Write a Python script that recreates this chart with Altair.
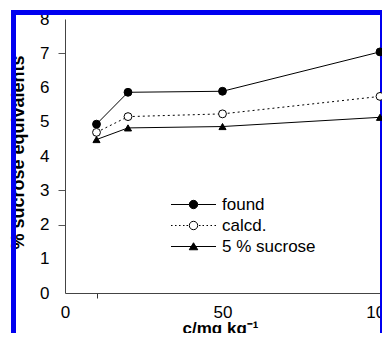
import altair as alt
import pandas as pd

# data
conc = [10, 20, 50, 100]
found = [4.93, 5.86, 5.89, 7.04]
calcd = [4.69, 5.15, 5.23, 5.74]
sucrose = [4.48, 4.82, 4.86, 5.13]
series_names = ["found", "calcd.", "5 % sucrose"]
y_ticks = [0, 1, 2, 3, 4, 5, 6, 7, 8]
x_ticks = [0, 10, 50, 100]

rows = []
for name, vals in zip(series_names, [found, calcd, sucrose]):
    for c, v in zip(conc, vals):
        rows.append({"series": name, "c": c, "v": v})
df = pd.DataFrame(rows)

FONT = "Liberation Sans"

xenc = alt.X("c:Q", scale=alt.Scale(domain=[0, 100], nice=False),
             axis=alt.Axis(values=x_ticks, labelExpr="datum.value == 10 ? '' : datum.label",
                           tickColor={"condition": {"test": "datum.value == 10", "value": "#333"}, "value": "transparent"},
                           tickSize=5, domainColor="#444", grid=False,
                           labelFont=FONT, labelFontSize=17, labelColor="black", labelPadding=6,
                           labelFlush=False, labelOverlap=False,
                           title="c/mg kg⁻¹", titleFont=FONT, titleFontSize=17, titleFontWeight="bold",
                           titleColor="black", titleX=155, titleY=40, titleBaseline="alphabetic"))
yenc = alt.Y("v:Q", scale=alt.Scale(domain=[0, 8], nice=False),
             axis=alt.Axis(values=y_ticks,
                           tickColor={"condition": {"test": "datum.value == 7 || datum.value == 3 || datum.value == 2", "value": "#555"}, "value": "transparent"},
                           tickSize=7, domainColor="#444", grid=False,
                           labelFont=FONT, labelFontSize=17, labelColor="black", labelPadding=9,
                           labelFlush=False, labelOverlap=False,
                           title="% sucrose equivalents", titleFont=FONT, titleFontSize=18, titleFontWeight="bold",
                           titleColor="black", titleX=-41.5, titleY=133, titleAngle=270,
                           titleBaseline="alphabetic", titleAlign="center"))

base = alt.Chart(df)

def sel(name):
    return base.transform_filter(alt.datum.series == name)

line_found = sel("found").mark_line(color="black", strokeWidth=1).encode(x=xenc, y=yenc)
line_calcd = sel("calcd.").mark_line(color="black", strokeWidth=1, strokeDash=[2, 3]).encode(x=xenc, y=yenc)
line_suc = sel("5 % sucrose").mark_line(color="black", strokeWidth=1).encode(x=xenc, y=yenc)

pt_found = sel("found").mark_point(shape="circle", filled=True, fill="black", stroke="black",
                                   strokeWidth=1, size=62, opacity=1).encode(x=xenc, y=yenc)
pt_calcd = sel("calcd.").mark_point(shape="circle", filled=True, fill="white", stroke="black",
                                    strokeWidth=1, size=62, opacity=1).encode(x=xenc, y=yenc)
pt_suc = sel("5 % sucrose").mark_point(shape="triangle-up", filled=True, fill="black", stroke="black",
                                       strokeWidth=1, size=50, opacity=1).encode(x=xenc, y=yenc)

# legend symbols: line with marker, as custom paths
p_found = "M-4.5,0H-0.84M0.84,0H4.5M-0.84,0A0.84,0.84,0,1,0,0.84,0A0.84,0.84,0,1,0,-0.84,0Z"
p_calcd = ("M-4.5,0H-4.2M-3.7,0H-3.4M-2.9,0H-2.6M-2.1,0H-1.8M-1.4,0H-1.1"
           "M1.1,0H1.4M1.8,0H2.1M2.6,0H2.9M3.4,0H3.7M4.2,0H4.5"
           "M-0.84,0A0.84,0.84,0,1,0,0.84,0A0.84,0.84,0,1,0,-0.84,0Z")
p_suc = "M-4.5,0H4.5M0,-0.75L0.85,0.65L-0.85,0.65Z"

leg = alt.Legend(title=None, orient="none", legendX=120, legendY=177,
                 labelFont=FONT, labelFontSize=17, labelColor="black", labelOffset=20,
                 symbolSize=100, symbolStrokeWidth=1, symbolStrokeColor="black",
                 symbolOpacity=1, rowPadding=3, padding=0)

legend_layer = base.mark_point(filled=True, stroke="black", strokeWidth=1, opacity=0).encode(
    x=xenc, y=yenc,
    shape=alt.Shape("series:N", scale=alt.Scale(domain=series_names, range=[p_found, p_calcd, p_suc]), legend=leg),
    fill=alt.Fill("series:N", scale=alt.Scale(domain=series_names, range=["black", "white", "black"]), legend=leg),
    stroke=alt.Stroke("series:N", scale=alt.Scale(domain=series_names, range=["black", "black", "black"]), legend=leg),
)

one = pd.DataFrame({"a": [0]})
BLUE = "#0000f0"
top_band = alt.Chart(one).mark_rule(color=BLUE, strokeWidth=5).encode(
    x=alt.value(-54), x2=alt.value(318), y=alt.value(-6.5))
left_band = alt.Chart(one).mark_rule(color=BLUE, strokeWidth=5).encode(
    x=alt.value(-51.5), y=alt.value(-9), y2=alt.value(316))
right_band = alt.Chart(one).mark_rule(color=BLUE, strokeWidth=2).encode(
    x=alt.value(316), y=alt.value(-9), y2=alt.value(316))

chart = alt.layer(
    line_found, line_calcd, line_suc, right_band, pt_found, pt_calcd, pt_suc, legend_layer,
    top_band, left_band
).properties(
    width=315, height=274,
    autosize=alt.AutoSizeParams(type="none"),
    padding={"left": 57, "top": 11, "right": 2, "bottom": 40},
    background="white",
).configure_view(stroke=None)

chart.save("out.html", embed_options={"renderer": "svg", "actions": False})
